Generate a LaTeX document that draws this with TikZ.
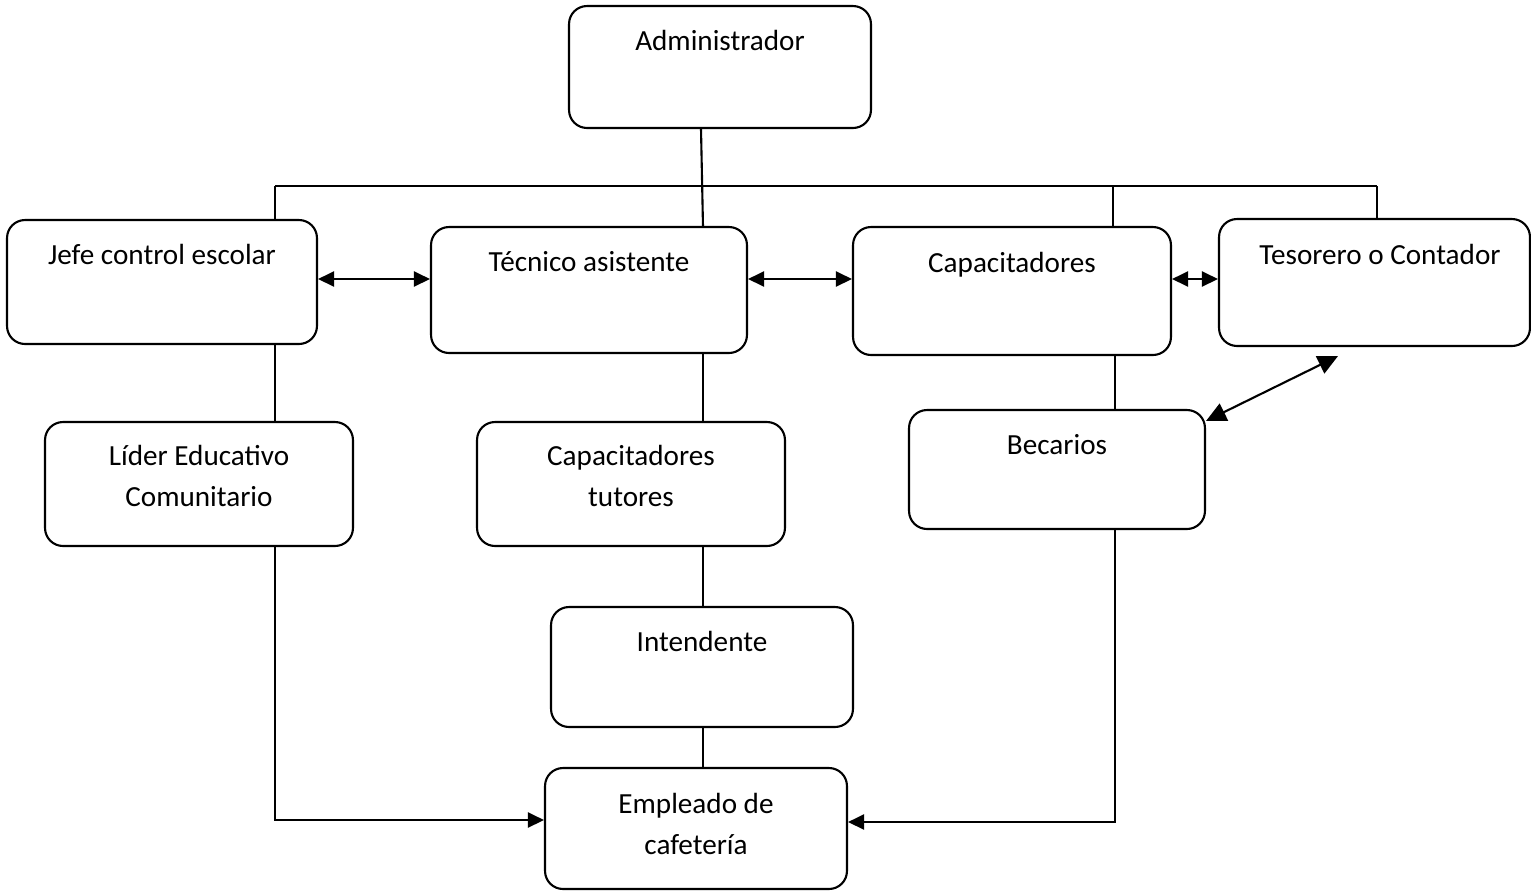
\documentclass[tikz,border=0pt]{standalone}
\usepackage{fontspec}
\setmainfont{Carlito}
\usetikzlibrary{arrows.meta,calc}
\begin{document}
\begin{tikzpicture}[x=0.02cm,y=-0.02cm,
  box/.style={draw,line width=1.2pt,rounded corners=0.36cm,inner sep=0pt},
  lbl/.style={anchor=base,inner sep=0pt,font=\fontsize{16.6}{22.8}\selectfont},
  ln/.style={line width=1.2pt},
  tip/.style={},
  arr/.style={line width=1.2pt,-{Triangle[length=0.32cm,width=0.3cm]}},
  darr/.style={line width=1.2pt,{Triangle[length=0.32cm,width=0.3cm]}-{Triangle[length=0.32cm,width=0.3cm]}},
  bigdarr/.style={line width=1.2pt,{Triangle[length=0.4cm,width=0.38cm]}-{Triangle[length=0.4cm,width=0.38cm]}}]
\useasboundingbox (0,0) rectangle (1531,890);
% boxes
\node[box,minimum width=6.04cm,minimum height=2.44cm] (adm) at (720,67) {};
\node[box,minimum width=6.2cm,minimum height=2.48cm] (jefe) at (162,282) {};
\node[box,minimum width=6.32cm,minimum height=2.52cm] (tec) at (589,290) {};
\node[box,minimum width=6.36cm,minimum height=2.56cm] (cap) at (1012,291) {};
\node[box,minimum width=6.22cm,minimum height=2.54cm] (tes) at (1374.5,282.5) {};
\node[box,minimum width=6.16cm,minimum height=2.48cm] (lider) at (199,484) {};
\node[box,minimum width=6.16cm,minimum height=2.48cm] (capt) at (631,484) {};
\node[box,minimum width=5.92cm,minimum height=2.38cm] (bec) at (1057,469.5) {};
\node[box,minimum width=6.04cm,minimum height=2.4cm] (int) at (702,667) {};
\node[box,minimum width=6.04cm,minimum height=2.42cm] (emp) at (696,828.5) {};
% labels
\node[lbl] (adm-t) at (720,50) {Administrador};
\node[lbl] (jefe-t) at (162,264) {Jefe control escolar};
\node[lbl] (tec-t) at (589,271) {Técnico asistente};
\node[lbl] (cap-t) at (1012,272) {Capacitadores};
\node[lbl] (tes-t) at (1380,264) {Tesorero o Contador};
\node[lbl] (lider-t1) at (199,465) {Líder Educativo};
\node[lbl] (lider-t2) at (199,506) {Comunitario};
\node[lbl] (capt-t1) at (631,465) {Capacitadores};
\node[lbl] (capt-t2) at (631,506) {tutores};
\node[lbl] (bec-t) at (1057,454) {Becarios};
\node[lbl] (int-t) at (702,651) {Intendente};
\node[lbl] (emp-t1) at (696,813) {Empleado de};
\node[lbl] (emp-t2) at (696,854) {cafetería};
% bus
\coordinate (bL) at (275,186);
\coordinate (bC) at (1113,186);
\coordinate (bR) at (1377,186);
\coordinate (mx) at (703,0);
\coordinate (cb) at (1115,0);
\coordinate (ya) at (0,279);
\draw[ln] ([xshift=-0.38cm]adm.south) -- ([xshift=2.28cm]tec.north);
\draw[ln] (bL) -- (bR);
\draw[ln] (bL) -- (bL |- jefe.north);
\draw[ln] (bC) -- (bC |- cap.north);
\draw[ln] (bR) -- (bR |- tes.north);
% verticals
\draw[ln] (bL |- jefe.south) -- (bL |- lider.north);
\draw[ln] (mx |- tec.south) -- (mx |- capt.north);
\draw[ln] (mx |- capt.south) -- (mx |- int.north);
\draw[ln] (mx |- int.south) -- (mx |- emp.north);
\draw[ln] (cb |- cap.south) -- (cb |- bec.north);
% arrows to empleado
\draw[arr] (bL |- lider.south) |- ([yshift=0.17cm]emp.west);
\draw[arr] (cb |- bec.south) |- ([yshift=0.13cm]emp.east);
% double arrows
\draw[darr] (jefe.east |- ya) -- (tec.west |- ya);
\draw[darr] (tec.east |- ya) -- (cap.west |- ya);
\draw[darr] (cap.east |- ya) -- (tes.west |- ya);
\draw[bigdarr] ([yshift=-0.24cm]bec.north east) -- ([xshift=-0.73cm,yshift=-0.18cm]tes.south);
\end{tikzpicture}
\end{document}
